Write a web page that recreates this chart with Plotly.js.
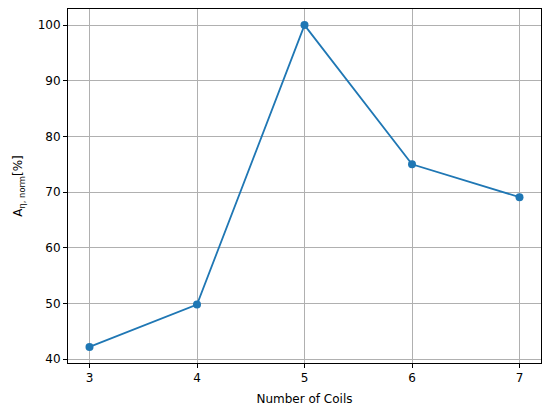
<!DOCTYPE html>
<html><head><meta charset="utf-8">
<script src="https://cdn.plot.ly/plotly-3.0.1.min.js"></script>
<style>html,body{margin:0;padding:0;background:#fff}#c{width:550px;height:411px}</style>
</head><body><div id="c"></div>
<script>
var coils = [3, 4, 5, 6, 7];
var aNorm = [42.2, 49.8, 100, 75.0, 69.1];
var xTicks = [3, 4, 5, 6, 7];
var yTicks = [40, 50, 60, 70, 80, 90, 100];

var trace = {
  x: coils, y: aNorm, type: 'scatter', mode: 'lines+markers',
  line: {color: '#1f77b4', width: 1.8},
  marker: {color: '#1f77b4', size: 8},
  hoverinfo: 'none'
};
var font = {family: 'DejaVu Sans', size: 12, color: '#000'};
var axisCommon = {
  showline: true, linecolor: '#000', linewidth: 1, mirror: true,
  ticks: 'outside', ticklen: 4, tickwidth: 1, tickcolor: '#000',
  showgrid: true, gridcolor: '#b0b0b0', gridwidth: 1,
  zeroline: false, tickfont: font
};
var layout = {
  width: 550, height: 411,
  margin: {l: 68, r: 8.5, t: 9, b: 48},
  paper_bgcolor: '#fff', plot_bgcolor: '#fff',
  showlegend: false, font: font,
  xaxis: Object.assign({}, axisCommon, {
    range: [2.8, 7.2], tickvals: xTicks, ticktext: xTicks.map(String),
    title: {text: 'Number of Coils', font: font, standoff: 10}
  }),
  yaxis: Object.assign({}, axisCommon, {
    range: [39.31, 102.89], tickvals: yTicks, ticktext: yTicks.map(String),
    title: {text: 'A<sub>η, norm</sub>[%]', font: font, standoff: 12}
  })
};
Plotly.newPlot('c', [trace], layout, {staticPlot: true, displayModeBar: false});
</script></body></html>
